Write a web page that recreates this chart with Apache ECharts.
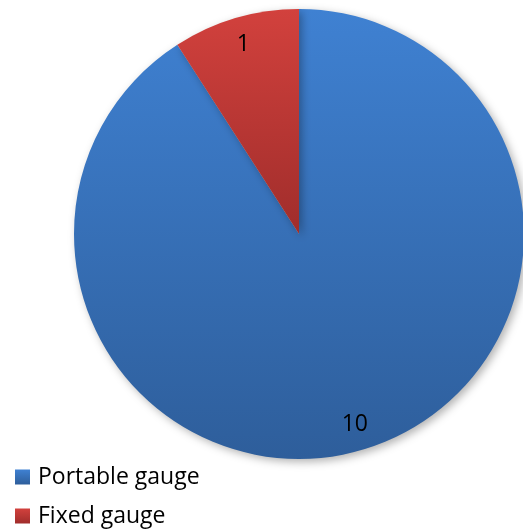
<!DOCTYPE html>
<html>
<head>
<meta charset="utf-8">
<script src="https://cdn.jsdelivr.net/npm/echarts@6/dist/echarts.min.js"></script>
<style>html,body{margin:0;padding:0;background:#fff;}#c{width:523px;height:529px;}</style>
</head>
<body>
<div id="c"></div>
<script>
const categories = ['Portable gauge', 'Fixed gauge'];
const values = [10, 1];

const grads = [
  ['#3f81d2', '#2e5e9b'],
  ['#d2413d', '#a02d2b']
];
const font = '"Open Sans", sans-serif';
const chart = echarts.init(document.getElementById('c'), null, {renderer: 'canvas'});
const data = categories.map((n, i) => ({
  name: n, value: values[i],
  itemStyle: {color: new echarts.graphic.LinearGradient(0, 0, 0, 1, [
    {offset: 0, color: grads[i][0]}, {offset: 1, color: grads[i][1]}])}
}));
const legendBase = {
  orient: 'vertical', left: 15, padding: 0,
  icon: 'rect', itemWidth: 15, itemHeight: 15, itemGap: 8,
  textStyle: {fontSize: 23, color: '#000', fontFamily: font, lineHeight: 26, padding: [0, 0, 0, 3]}
};
chart.setOption({
  animation: false,
  legend: [
    Object.assign({}, legendBase, {top: 464, data: [categories[0]]}),
    Object.assign({}, legendBase, {top: 503, data: [categories[1]]})
  ],
  series: [{
    type: 'pie', center: [299, 234], radius: 225, startAngle: 90, clockwise: true,
    label: {show: false}, labelLine: {show: false},
    itemStyle: {shadowBlur: 8, shadowOffsetX: 3, shadowOffsetY: 3, shadowColor: 'rgba(0,0,0,0.3)'},
    emphasis: {disabled: true},
    data: data
  }, {
    type: 'pie', center: [299, 234], radius: [180, 210], startAngle: 90, clockwise: true,
    silent: true,
    itemStyle: {color: 'rgba(0,0,0,0)'},
    label: {show: true, position: 'inside', formatter: '{c}', fontSize: 23, color: '#000', fontFamily: font},
    labelLine: {show: false},
    emphasis: {disabled: true},
    data: categories.map((n, i) => ({name: n, value: values[i]}))
  }]
});
</script>
</body>
</html>
